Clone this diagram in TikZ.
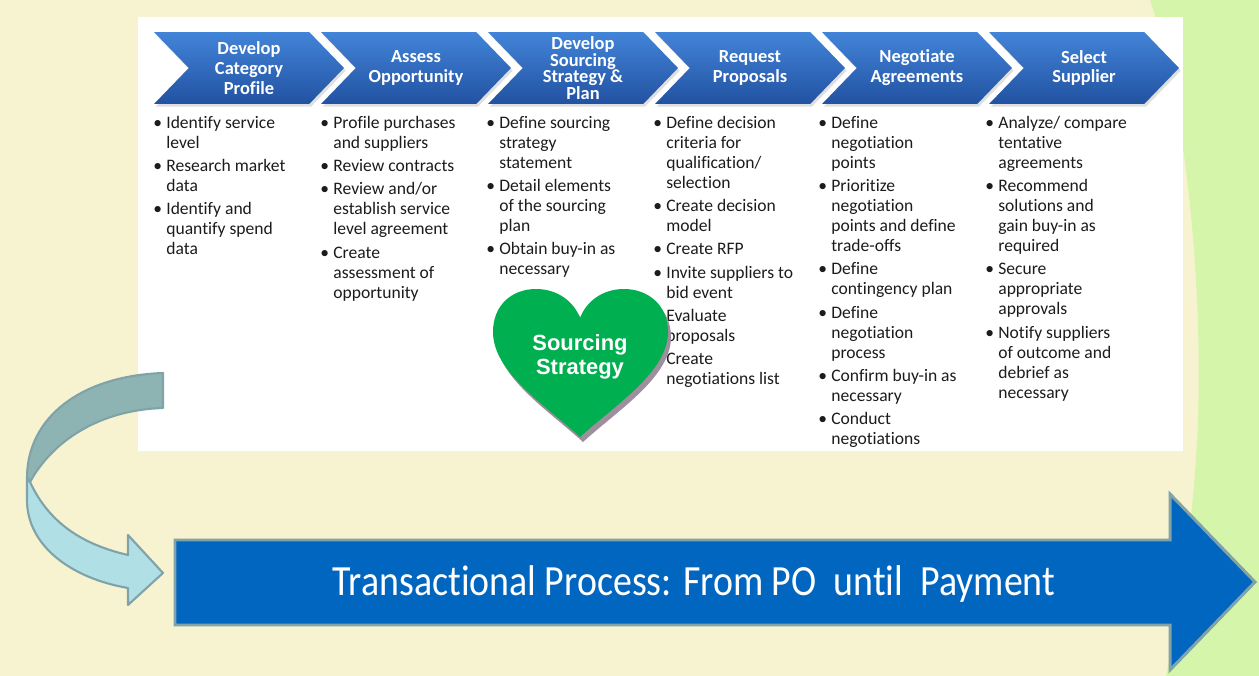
\documentclass[tikz,border=0pt]{standalone}
\usepackage{fontspec}
\setmainfont{Carlito}[Ligatures=NoCommon]
\newfontfamily\arialfont{Liberation Sans}
\usetikzlibrary{shapes.symbols, shadows, positioning}
\definecolor{cream}{RGB}{247,243,208}
\definecolor{lime}{RGB}{212,245,170}
\definecolor{chevtop}{RGB}{66,132,216}
\definecolor{chevbot}{RGB}{34,82,162}
\definecolor{heartgreen}{RGB}{0,176,80}
\definecolor{heartshade}{RGB}{158,142,158}
\definecolor{arrowblue}{RGB}{0,102,192}
\definecolor{tealedge}{RGB}{127,163,168}
\definecolor{tealdark}{RGB}{141,179,179}
\definecolor{teallight}{RGB}{176,224,230}
\definecolor{bodytext}{RGB}{28,28,28}
\newenvironment{steplist}{\begin{tabular}{@{}p{7.4pt}@{}l@{}}}{\end{tabular}}
\newcommand{\heartpath}{(580,437) .. controls (545,405) and (493,372) .. (493,332)
  .. controls (493,305) and (512,289) .. (536,289) .. controls (558,289) and (574,302) .. (580,318)
  .. controls (586,302) and (602,289) .. (624,289) .. controls (648,289) and (668,305) .. (668,332)
  .. controls (668,372) and (615,405) .. (580,437) -- cycle}
\tikzset{
    chev/.style={signal, signal from=west, signal to=east, signal pointer angle=92, minimum width=3.8cm, minimum height=1.44cm, inner sep=0pt, top color=chevtop, bottom color=chevbot, text=white, align=center, font=\bfseries\fontsize{10.5}{11.3}\selectfont, drop shadow={opacity=0.25, shadow xshift=1pt, shadow yshift=-1.5pt}},
    steps/.style={anchor=north west, inner sep=0pt, text=bodytext, font=\fontsize{10}{11.4}\selectfont},
    panel/.style={fill=white, anchor=north west, inner sep=0pt, minimum width=20.9cm, minimum height=8.68cm},
    hearttext/.style={text=white, align=center, font=\arialfont\bfseries\fontsize{12.5}{14}\selectfont},
    bigtext/.style={anchor=base, text=white, font=\fontsize{24.5}{28}\selectfont},
    band/.style={draw=tealedge, line width=1.2pt, line join=round},
}
\begin{document}
\begin{tikzpicture}[x=0.02cm, y=-0.02cm]
    \useasboundingbox (0,0) rectangle (1259,676);
    % background
    \fill[cream] (0,0) rectangle (1259,676);
    \fill[lime] (1150,0) .. controls (1190,120) and (1202,300) .. (1198,420) .. controls (1194,520) and (1180,610) .. (1166,676) -- (1259,676) -- (1259,0) -- cycle;

    \node[panel] (panel) at (138,17) {};

    % sourcing steps
    \node[chev] (ch1) at (249,68) {Develop\\Category\\Profile};
    \node[chev] (ch2) at (416,68) {Assess\\Opportunity};
    \node[chev, font=\bfseries\fontsize{10.5}{9.4}\selectfont] (ch3) at (583,68) {Develop\\Sourcing\\Strategy \&\\Plan};
    \node[chev] (ch4) at (750,68) {Request\\Proposals};
    \node[chev] (ch5) at (917,68) {Negotiate\\Agreements};
    \node[chev] (ch6) at (1084,68) {Select\\Supplier};

    \node[steps] (c1) at (153,114) {\begin{steplist}
        \textbullet & Identify service\\ & level\\[1.8pt]
        \textbullet & Research market\\ & data\\[1.8pt]
        \textbullet & Identify and\\ & quantify spend\\ & data
    \end{steplist}};
    \node[steps] (c2) at (320,114) {\begin{steplist}
        \textbullet & Profile purchases\\ & and suppliers\\[1.8pt]
        \textbullet & Review contracts\\[1.8pt]
        \textbullet & Review and/or\\ & establish service\\ & level agreement\\[1.8pt]
        \textbullet & Create\\ & assessment of\\ & opportunity
    \end{steplist}};
    \node[steps] (c3) at (486,114) {\begin{steplist}
        \textbullet & Define sourcing\\ & strategy\\ & statement\\[1.8pt]
        \textbullet & Detail elements\\ & of the sourcing\\ & plan\\[1.8pt]
        \textbullet & Obtain buy-in as\\ & necessary
    \end{steplist}};
    \node[steps] (c4) at (653,114) {\begin{steplist}
        \textbullet & Define decision\\ & criteria for\\ & qualification/\\ & selection\\[1.8pt]
        \textbullet & Create decision\\ & model\\[1.8pt]
        \textbullet & Create RFP\\[1.8pt]
        \textbullet & Invite suppliers to\\ & bid event\\[1.8pt]
        \textbullet & Evaluate\\ & proposals\\[1.8pt]
        \textbullet & Create\\ & negotiations list
    \end{steplist}};
    \node[steps] (c5) at (818,114) {\begin{steplist}
        \textbullet & Define\\ & negotiation\\ & points\\[1.8pt]
        \textbullet & Prioritize\\ & negotiation\\ & points and define\\ & trade-offs\\[1.8pt]
        \textbullet & Define\\ & contingency plan\\[1.8pt]
        \textbullet & Define\\ & negotiation\\ & process\\[1.8pt]
        \textbullet & Confirm buy-in as\\ & necessary\\[1.8pt]
        \textbullet & Conduct\\ & negotiations
    \end{steplist}};
    \node[steps] (c6) at (985,114) {\begin{steplist}
        \textbullet & Analyze/ compare\\ & tentative\\ & agreements\\[1.8pt]
        \textbullet & Recommend\\ & solutions and\\ & gain buy-in as\\ & required\\[1.8pt]
        \textbullet & Secure\\ & appropriate\\ & approvals\\[1.8pt]
        \textbullet & Notify suppliers\\ & of outcome and\\ & debrief as\\ & necessary
    \end{steplist}};

    % heart
    \fill[heartshade, shift={(3,5)}] \heartpath;
    \fill[heartgreen] \heartpath;
    \node[hearttext] (heart) at (580,357) {Sourcing\\Strategy};

    % curved arrow
    \filldraw[band, fill=tealdark] (163,373) .. controls (80,376) and (27,418) .. (27,478) -- (30,482) .. controls (52,442) and (98,410) .. (163,408) -- cycle;
    \filldraw[band, fill=teallight] (30,482) .. controls (50,525) and (85,545) .. (128,555) -- (128,535) -- (163,573) -- (128,605) -- (128,588) .. controls (70,578) and (27,545) .. (27,500) -- (27,478) -- cycle;

    % transactional process
    \filldraw[fill=arrowblue, draw=tealedge, line width=1.7pt, line join=miter] (175,540) -- (1170,540) -- (1170,494) -- (1255,582) -- (1170,670) -- (1170,625) -- (175,625) -- cycle;
    \node[bigtext] (trans) at (694,595) {\scalebox{0.88}[1]{Transactional Process: From PO\ \ until\ \ Payment}};
\end{tikzpicture}
\end{document}
